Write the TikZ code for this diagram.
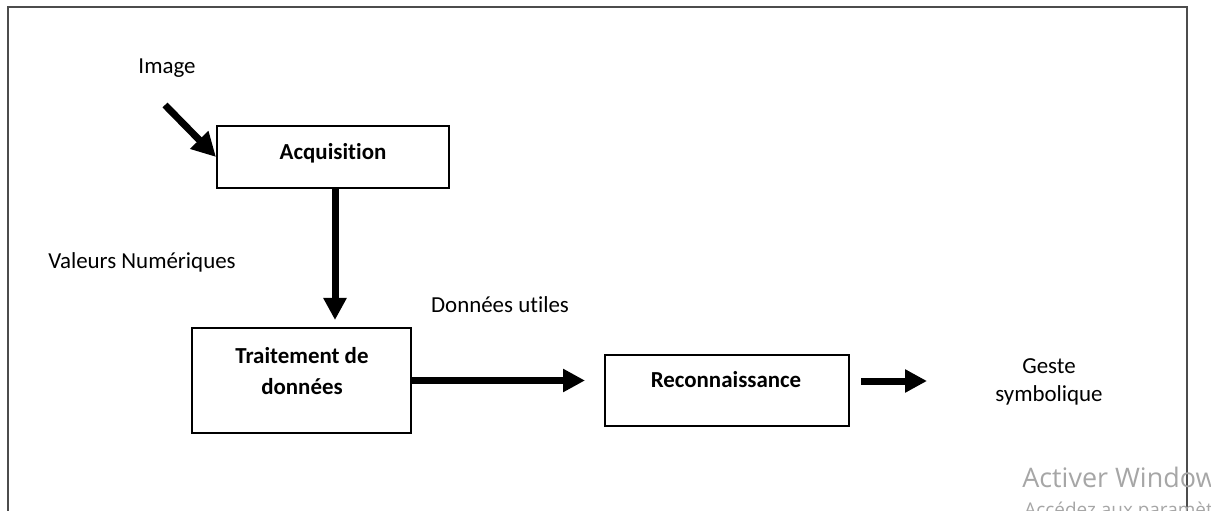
\documentclass[tikz,border=0pt]{standalone}
\usepackage{fontspec}
\setmainfont{Carlito}[Ligatures=NoCommon]
\newfontfamily\wmfont{Open Sans}
\usetikzlibrary{arrows.meta,positioning}

\tikzset{
  block/.style={draw=black,line width=1bp,rectangle,inner sep=0pt},
  blocktext/.style={font=\fontsize{11.5}{16}\selectfont\bfseries,align=center,inner sep=0pt},
  plain/.style={font=\fontsize{11.5}{14}\selectfont,align=center,inner sep=0pt},
  flow/.style={line width=3.5bp,-{Triangle[length=11bp,width=11bp]}},
}

\begin{document}
\begin{tikzpicture}[x=0.5bp,y=-0.5bp]
  \useasboundingbox (0,0) rectangle (1211,511);
  % cadre
  \draw[line width=1bp,black!70] (8,511) -- (8,7) -- (1187,7) -- (1187,511);
  %% blocs
  \node[block,minimum width=116bp,minimum height=31bp] (acq) at (333,157) {};
  \node[blocktext] (acqtxt) at (333,153) {Acquisition};
  \node[block,minimum width=109.5bp,minimum height=52.5bp] (trt) at (301.5,380.5) {};
  \node[blocktext] (trttxt) at (302,371) {Traitement de\\donn\'ees};
  \node[block,minimum width=122bp,minimum height=35.5bp] (rec) at (727,390.5) {};
  \node[blocktext] (rectxt) at (726,380) {Reconnaissance};
  %% textes
  \node[plain] (img) at (167,68) {Image};
  \node[plain] (val) at (142,262) {Valeurs Num\'eriques};
  \node[plain] (util) at (500,305) {Donn\'ees utiles};
  \node[plain] (geste) at (1049,382) {Geste\\symbolique};
  \coordinate (imgstart) at (165,105);
  \coordinate (down) at (335,328);
  \coordinate (out) at (927,381);
  %% fleches
  \draw[flow,-{Triangle[length=12bp,width=12bp]}] (imgstart) -- (acq.west);
  \draw[flow,shorten >=4bp] (acq.south -| down) -- (down);
  \draw[flow,shorten >=9.5bp] (trt.east) -- (trt.east -| rec.west);
  \draw[flow,shorten <=5.5bp] (out -| rec.east) -- (out);
  %% filigrane
  \begin{scope}
    \clip (0,0) rectangle (1211,511);
    \node[anchor=west,inner sep=0pt,text=black!35,font=\wmfont\fontsize{13.5}{16}\selectfont] (wm1) at (1022,477) {Activer Windows};
    \node[anchor=west,inner sep=0pt,text=black!35,font=\wmfont\fontsize{9.5}{12}\selectfont] (wm2) at (1024,512) {Acc\'edez aux param\`etres};
  \end{scope}
\end{tikzpicture}
\end{document}
